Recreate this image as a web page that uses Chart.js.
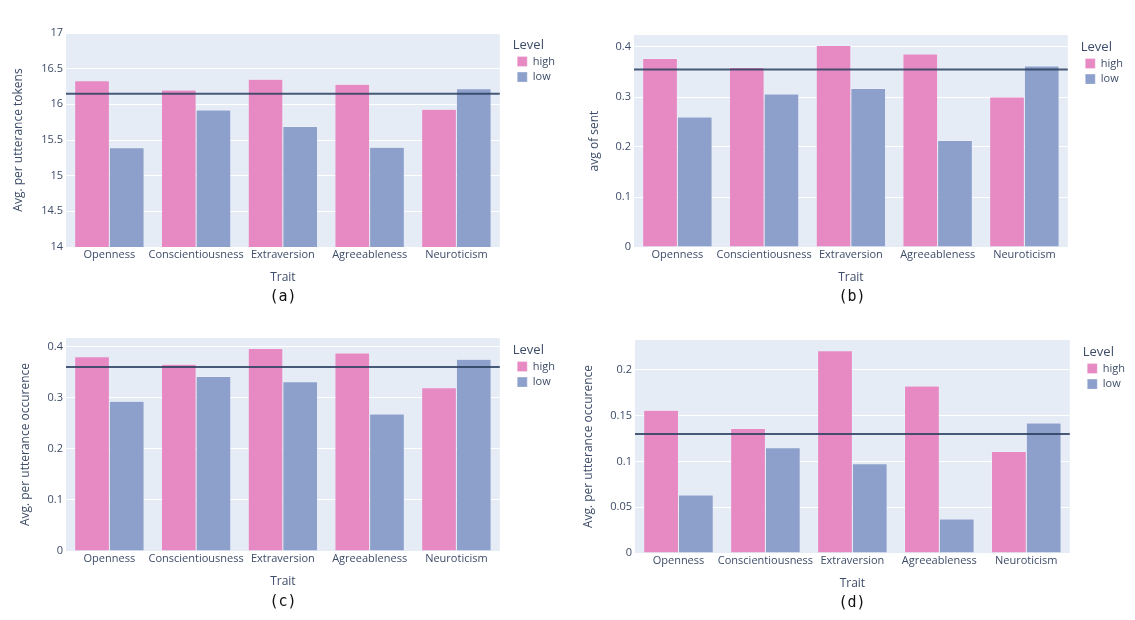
<!DOCTYPE html>
<html>
<head>
  <meta charset="utf-8">
  <title>Traits by level</title>
  <script src="https://cdn.jsdelivr.net/npm/chart.js@4.4.1/dist/chart.umd.min.js"></script>
  <style>
    html, body { margin: 0; padding: 0; background: #fff; width: 1135px; height: 620px; overflow: hidden; }
    canvas { position: absolute; }
    .cap {
      position: absolute;
      font-family: "DejaVu Sans Mono", monospace;
      font-size: 15px;
      color: #111;
      transform: translate(-50%, -50%);
      white-space: nowrap;
    }
  </style>
</head>
<body>
<canvas id="chartA"></canvas>
<canvas id="chartB"></canvas>
<canvas id="chartC"></canvas>
<canvas id="chartD"></canvas>
<div class="cap" style="left:283px; top:296px">(a)</div>
<div class="cap" style="left:852px; top:296px">(b)</div>
<div class="cap" style="left:283px; top:601px">(c)</div>
<div class="cap" style="left:852px; top:602px">(d)</div>

<script>
// data
var traits = ['Openness', 'Conscientiousness', 'Extraversion', 'Agreeableness', 'Neuroticism'];
var levels = ['high', 'low'];

// (a) tokens
var tokensHigh = [16.33, 16.20, 16.35, 16.28, 15.93];
var tokensLow  = [15.39, 15.92, 15.69, 15.40, 16.22];
var tokensMean = 16.15;
var tokensTicks = [14, 14.5, 15, 15.5, 16, 16.5, 17];
var tokensRange = [14, 17];

// (b) sentiment
var sentHigh = [0.377, 0.359, 0.403, 0.386, 0.300];
var sentLow  = [0.260, 0.306, 0.317, 0.213, 0.362];
var sentMean = 0.355;
var sentTicks = [0, 0.1, 0.2, 0.3, 0.4];
var sentRange = [0, 0.424];

// (c) occurence
var occHigh = [0.380, 0.365, 0.396, 0.387, 0.319];
var occLow  = [0.293, 0.341, 0.331, 0.268, 0.375];
var occMean = 0.360;
var occTicks = [0, 0.1, 0.2, 0.3, 0.4];
var occRange = [0, 0.4165];

// (d) occurence
var occ2High = [0.156, 0.136, 0.221, 0.1825, 0.111];
var occ2Low  = [0.0633, 0.115, 0.0975, 0.0371, 0.142];
var occ2Mean = 0.130;
var occ2Ticks = [0, 0.05, 0.1, 0.15, 0.2];
var occ2Range = [0, 0.2327];

var pink = '#e78ac3';
var blue = '#8da0cb';
var textColor = '#3d4c68';
var meanColor = 'rgba(42, 63, 95, 0.85)';

var xAxisH = 42;   // tick labels + "Trait"
var gapW = 13;     // space between plot and legend
var legendW = 53;

Chart.defaults.font.family = '"Open Sans", sans-serif';

// plotly-like light blue plot background
var plotBg = {
  id: 'plotBg',
  beforeDraw: function(chart) {
    var a = chart.chartArea;
    var ctx = chart.ctx;
    ctx.save();
    ctx.fillStyle = '#e5ecf6';
    ctx.fillRect(a.left, a.top, a.right - a.left, a.bottom - a.top);
    ctx.restore();
  }
};

// horizontal mean line across the whole plot, placed with the y scale
// (a second x axis for a line dataset makes 4.5 split the bar groups)
var meanLine = {
  id: 'meanLine',
  afterDatasetsDraw: function(chart, args, opts) {
    var a = chart.chartArea;
    var y = chart.scales.y.getPixelForValue(opts.value);
    var ctx = chart.ctx;
    ctx.save();
    ctx.strokeStyle = opts.color;
    ctx.lineWidth = opts.width;
    ctx.beginPath();
    ctx.moveTo(a.left, y);
    ctx.lineTo(a.right, y);
    ctx.stroke();
    ctx.restore();
  }
};

function makeChart(id, box, yTitle, high, low, mean, range, ticks) {
  var cv = document.getElementById(id);
  cv.width = box.plotRight + gapW + legendW - box.left;
  cv.height = box.plotBottom + xAxisH - box.top;
  cv.style.left = box.left + 'px';
  cv.style.top = box.top + 'px';

  return new Chart(cv, {
    type: 'bar',
    data: {
      labels: traits,
      datasets: [{
        label: levels[0],
        data: high,
        backgroundColor: pink,
        borderColor: 'rgba(255,255,255,0.6)',
        borderWidth: 0.5
      }, {
        label: levels[1],
        data: low,
        backgroundColor: blue,
        borderColor: 'rgba(255,255,255,0.6)',
        borderWidth: 0.5
      }]
    },
    options: {
      responsive: false,
      animation: false,
      categoryPercentage: 0.8,
      barPercentage: 1.0,
      layout: { padding: { top: box.plotTop - box.top, left: 0, right: 0, bottom: 0 } },
      plugins: {
        tooltip: { enabled: false },
        meanLine: { value: mean, color: meanColor, width: 2 },
        legend: {
          position: 'right',
          align: 'start',
          maxWidth: legendW,
          title: {
            display: true,
            text: 'Level',
            position: 'start',
            color: textColor,
            font: { size: 13 },
            padding: { top: 6, bottom: -3 }
          },
          labels: {
            boxWidth: 10,
            boxHeight: 10,
            padding: 4.5,
            color: textColor,
            font: { size: 11 }
          }
        }
      },
      scales: {
        x: {
          type: 'category',
          grid: { display: false, drawTicks: false },
          border: { display: false },
          ticks: { color: textColor, font: { size: 11 }, padding: 1, maxRotation: 0, autoSkip: false },
          title: { display: true, text: 'Trait', color: textColor, font: { size: 12 }, padding: { top: 0, bottom: 4 } },
          afterFit: function(s) { s.height = xAxisH; }
        },
        y: {
          type: 'linear',
          min: range[0],
          max: range[1],
          grid: { color: '#ffffff', lineWidth: 1, drawTicks: false },
          border: { display: false },
          ticks: {
            color: textColor,
            font: { size: 11 },
            padding: 3,
            callback: function(v) { return String(v); }
          },
          afterBuildTicks: function(s) {
            s.ticks = ticks.map(function(v) { return { value: v }; });
          },
          title: { display: true, text: yTitle, color: textColor, font: { size: 12 }, padding: { top: box.titlePad, bottom: 0 } },
          afterFit: function(s) { s.width = box.plotLeft - box.left; }
        },
        gap: {
          type: 'linear',
          position: 'right',
          grid: { display: false },
          border: { display: false },
          ticks: { display: false },
          afterFit: function(s) { s.width = gapW; }
        }
      }
    },
    plugins: [plotBg, meanLine]
  });
}

var boxA = { left: 0,   top: 0,   plotLeft: 66,  plotTop: 33,  plotRight: 499,  plotBottom: 247, titlePad: 11 };
var boxB = { left: 566, top: 0,   plotLeft: 634, plotTop: 35,  plotRight: 1067, plotBottom: 247, titlePad: 21 };
var boxC = { left: 0,   top: 300, plotLeft: 66,  plotTop: 338, plotRight: 499,  plotBottom: 551, titlePad: 18 };
var boxD = { left: 566, top: 300, plotLeft: 635, plotTop: 340, plotRight: 1069, plotBottom: 553, titlePad: 15 };

makeChart('chartA', boxA, 'Avg. per utterance tokens', tokensHigh, tokensLow, tokensMean, tokensRange, tokensTicks);
makeChart('chartB', boxB, 'avg of sent', sentHigh, sentLow, sentMean, sentRange, sentTicks);
makeChart('chartC', boxC, 'Avg. per utterance occurence', occHigh, occLow, occMean, occRange, occTicks);
makeChart('chartD', boxD, 'Avg. per utterance occurence', occ2High, occ2Low, occ2Mean, occ2Range, occ2Ticks);
</script>
</body>
</html>
